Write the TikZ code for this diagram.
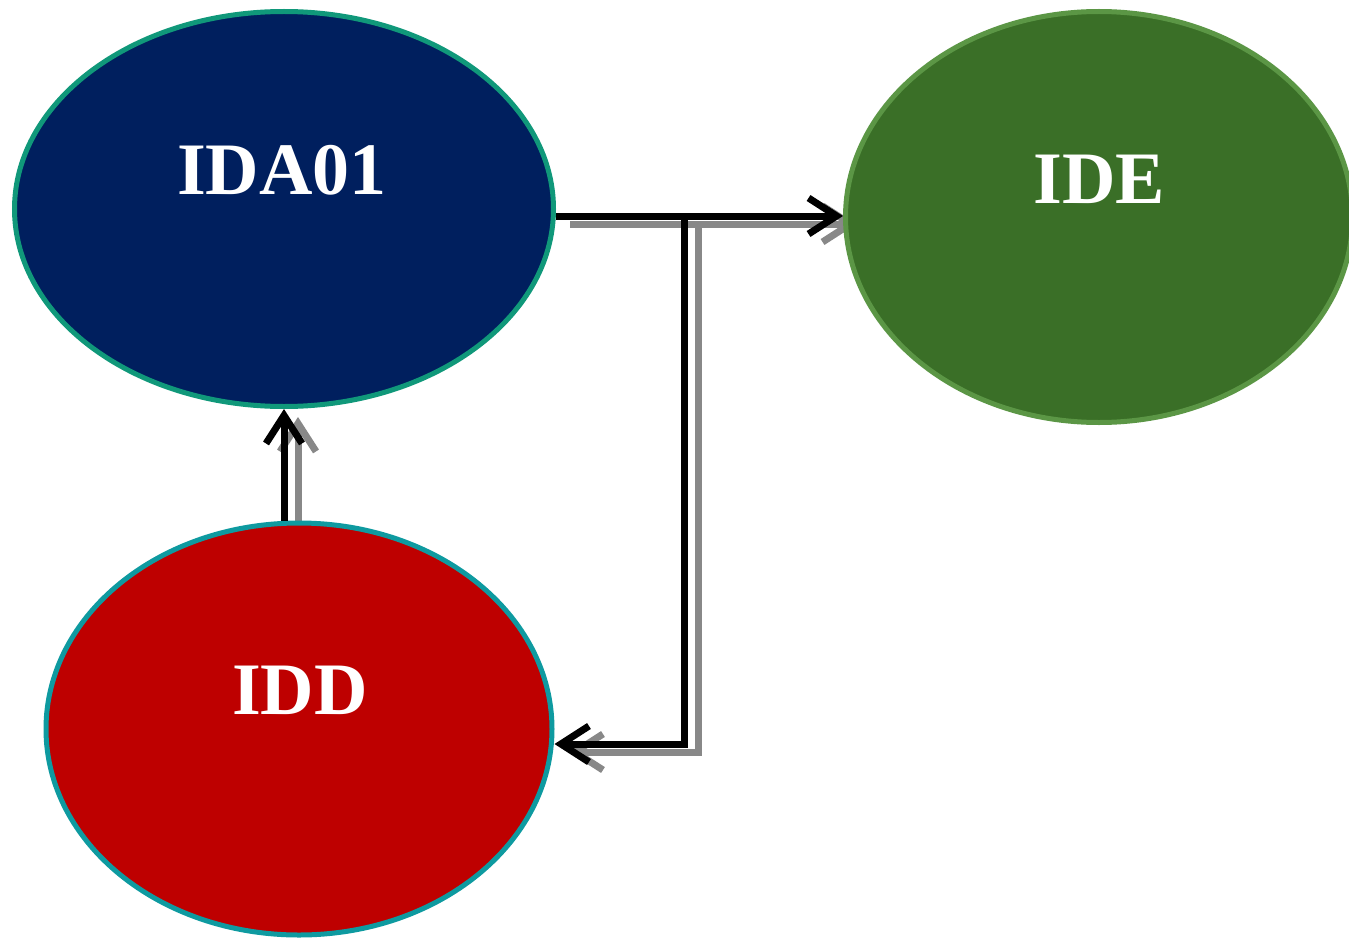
\documentclass[tikz,border=0pt]{standalone}
\usepackage{fontspec}
\setmainfont{Liberation Serif}
\usetikzlibrary{shapes.geometric,arrows.meta}
\pgfdeclarelayer{background}
\pgfsetlayers{background,main}
\definecolor{idafill}{HTML}{001F5E}
\definecolor{idaline}{HTML}{10987A}
\definecolor{idefill}{HTML}{3A6F27}
\definecolor{ideline}{HTML}{5B9645}
\definecolor{iddfill}{HTML}{BE0000}
\definecolor{iddline}{HTML}{0E9AA0}
\definecolor{shade}{HTML}{888888}
\tikzset{
  oval/.style={ellipse, inner sep=0pt, line width=5pt},
  lbl/.style={text=white, font=\bfseries\fontsize{74}{80}\selectfont, anchor=base, inner sep=0pt},
  arr/.style={line width=7pt, -{Straight Barb[length=28pt,width=36pt]}},
  shadowline/.style={draw=shade, transform canvas={shift={(14,8)}}}
}
\begin{document}
\begin{tikzpicture}[x=1pt,y=-1pt]
\useasboundingbox (0,0) rectangle (1349,939);
\node[oval, draw=idaline, fill=idafill, minimum width=539pt, minimum height=395pt] (ida) at (284,209) {};
\node[oval, draw=ideline, fill=idefill, minimum width=507pt, minimum height=411pt] (ide) at (1099,217) {};
\node[oval, draw=iddline, fill=iddfill, minimum width=506pt, minimum height=412pt] (idd) at (299,729) {};
\node[lbl] (tida) at (282,194) {IDA01};
\node[lbl] (tide) at (1099,203) {IDE};
\node[lbl] (tidd) at (300,714) {IDD};
\coordinate (j) at (684,216);
\coordinate (k) at (684,744);
\begin{pgfonlayer}{background}
  \draw[arr, shadowline] (ida.east |- j) -- (ide.west |- j);
  \draw[arr, shadowline] (j) -- (k) -- (idd.east |- k);
  \draw[arr, shadowline] (ida.south |- idd.north) -- (ida.south);
\end{pgfonlayer}
\draw[arr] (ida.east |- j) -- (ide.west |- j);
\draw[arr] (j) -- (k) -- (idd.east |- k);
\draw[arr] (ida.south |- idd.north) -- (ida.south);
\end{tikzpicture}
\end{document}
